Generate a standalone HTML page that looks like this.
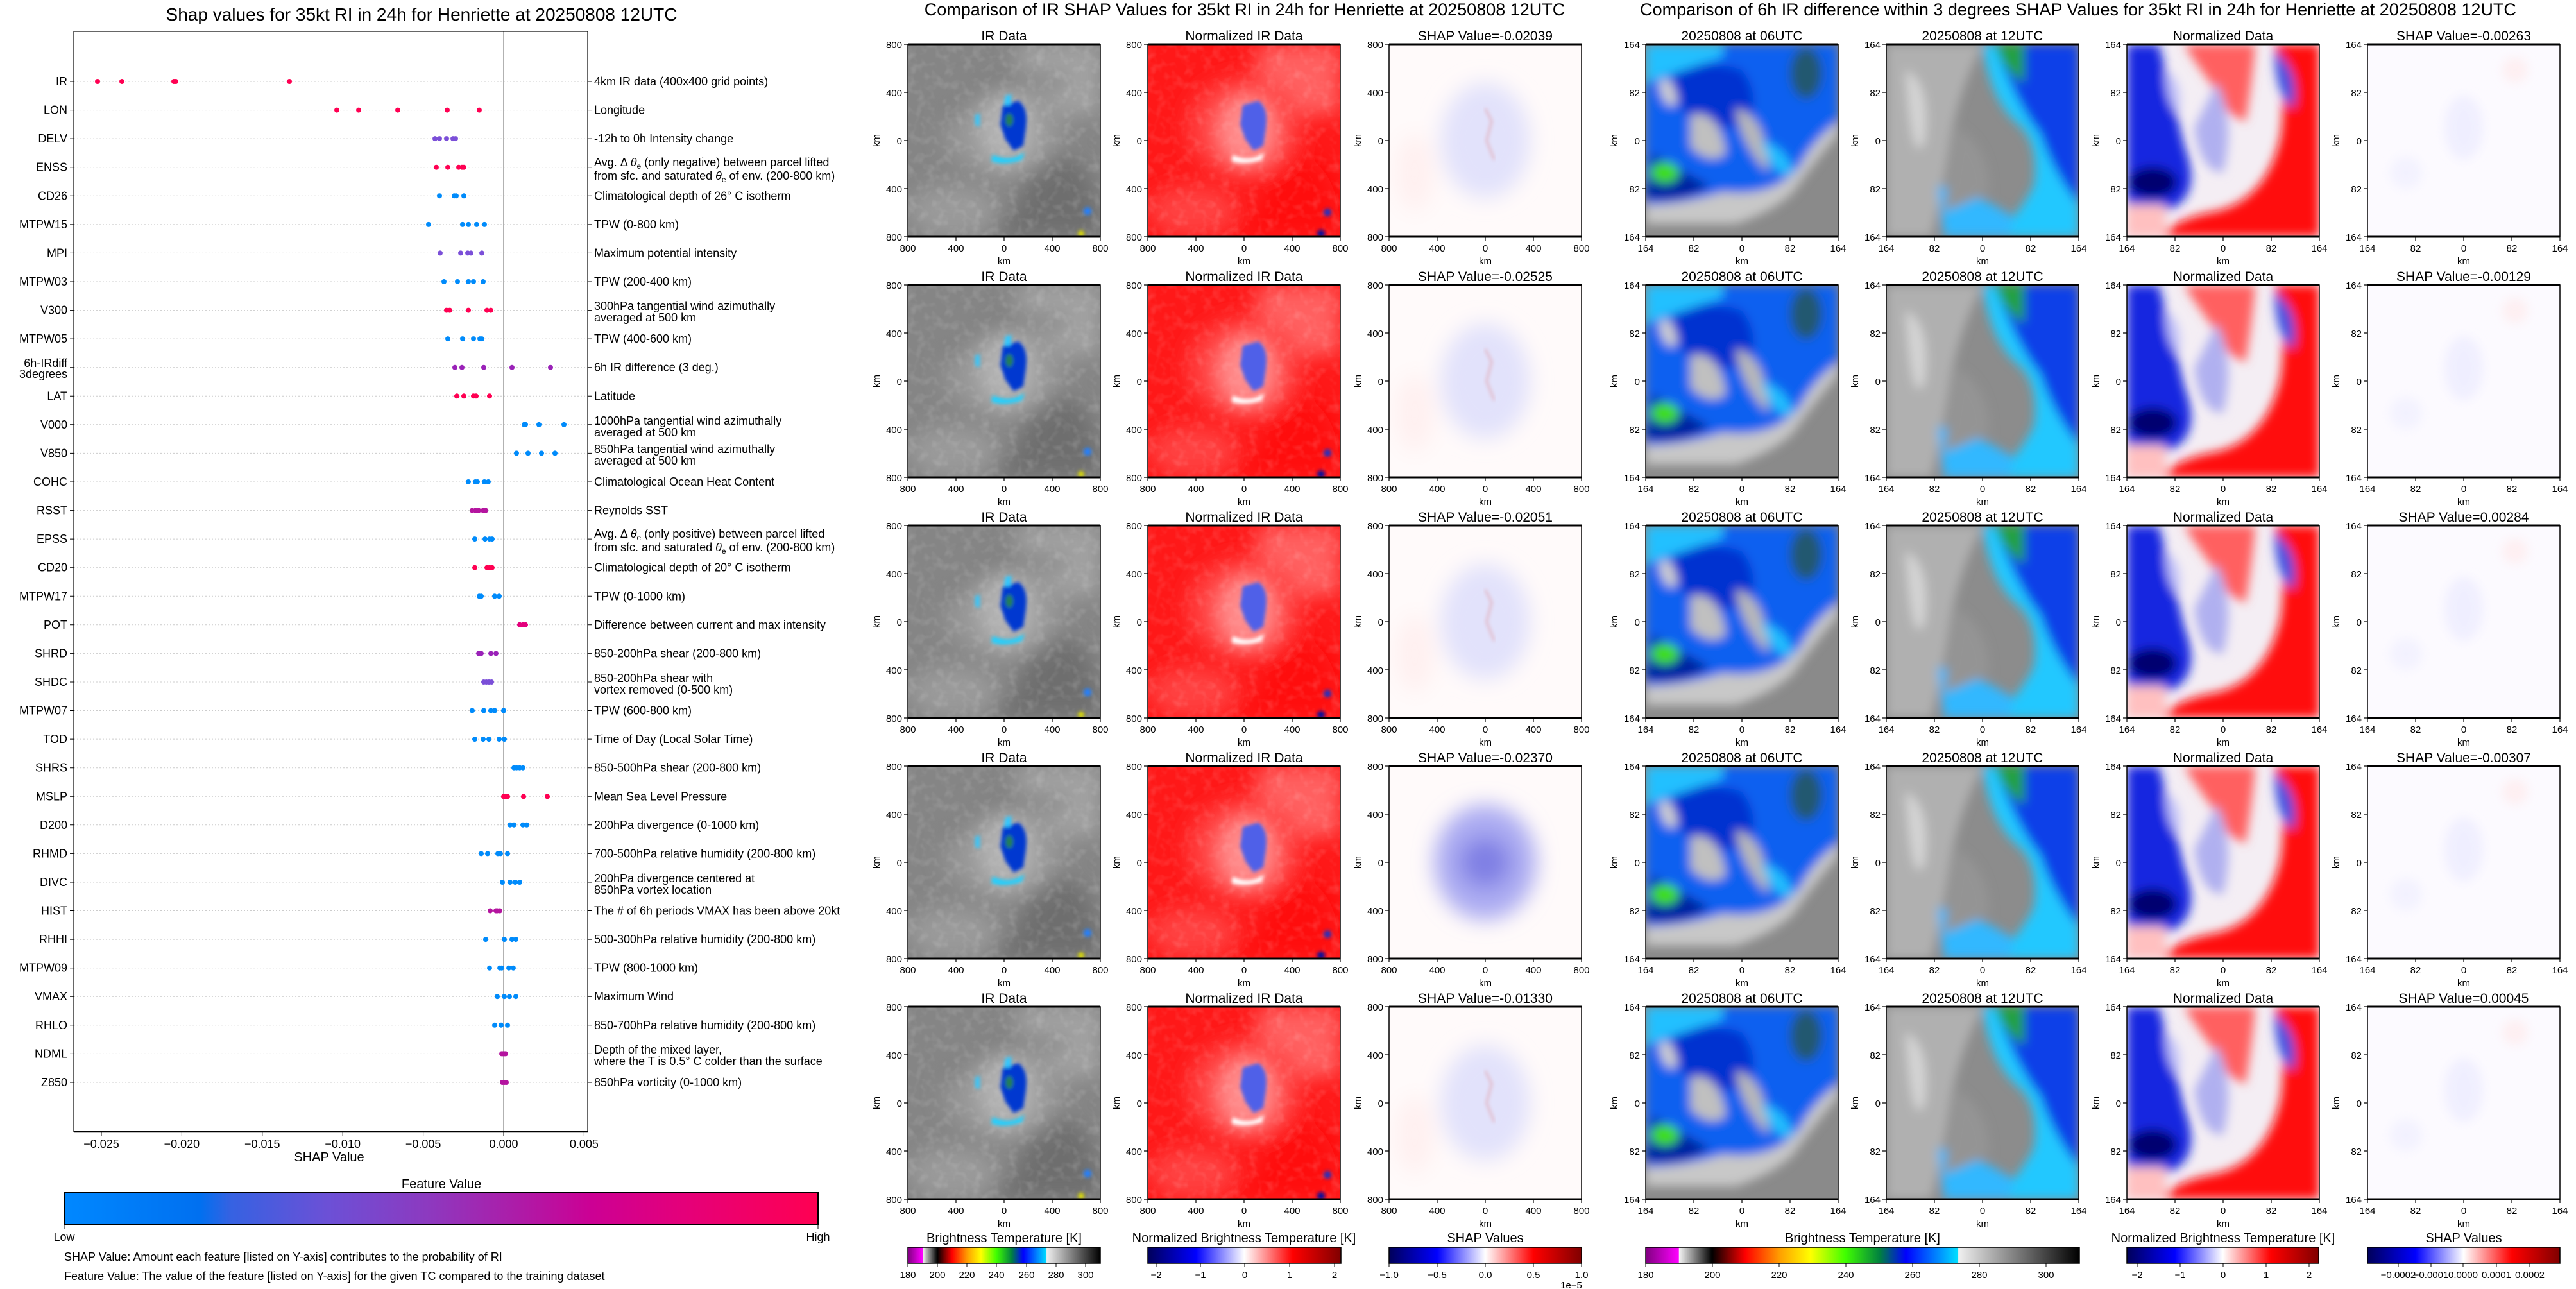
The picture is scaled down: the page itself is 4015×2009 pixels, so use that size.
<!DOCTYPE html>
<html><head><meta charset="utf-8"><style>
html,body{margin:0;padding:0;background:#fff;}
svg{display:block;font-family:"Liberation Sans","DejaVu Sans",sans-serif;}
.t{font-size:18px;fill:#000}
.tk{font-size:15px;fill:#000}
.st{font-size:21px;fill:#000}
</style></head><body>
<svg width="4015" height="2009" viewBox="0 0 4015 2009" xmlns="http://www.w3.org/2000/svg">
<defs>
<filter id="b3" x="-20%" y="-20%" width="140%" height="140%"><feGaussianBlur stdDeviation="3"/></filter>
<filter id="b8" x="-30%" y="-30%" width="160%" height="160%"><feGaussianBlur stdDeviation="8"/></filter>
<filter id="b15" x="-30%" y="-30%" width="160%" height="160%"><feGaussianBlur stdDeviation="16"/></filter>
<filter id="tex" x="0" y="0" width="100%" height="100%"><feTurbulence type="fractalNoise" baseFrequency="0.07" numOctaves="2" seed="3"/><feColorMatrix type="matrix" values="0 0 0 0 1  0 0 0 0 1  0 0 0 0 1  0 0 0 1.6 -0.75"/></filter>
<linearGradient id="gFV" x1="0" x2="1"><stop offset="0" stop-color="#0088ff"/><stop offset=".18" stop-color="#0070f0"/><stop offset=".22" stop-color="#3562e2"/><stop offset=".35" stop-color="#6c50d6"/><stop offset=".48" stop-color="#8c3ac0"/><stop offset=".6" stop-color="#ad1ca8"/><stop offset=".7" stop-color="#cc0094"/><stop offset=".82" stop-color="#e4007a"/><stop offset="1" stop-color="#ff0052"/></linearGradient>
<linearGradient id="gBT" x1="0" x2="1"><stop offset="0" stop-color="#800080"/><stop offset=".076" stop-color="#ff00ff"/><stop offset=".077" stop-color="#f4f4f4"/><stop offset=".153" stop-color="#000"/><stop offset=".23" stop-color="#ff0000"/><stop offset=".31" stop-color="#ffa000"/><stop offset=".38" stop-color="#ffff00"/><stop offset=".46" stop-color="#40ff00"/><stop offset=".54" stop-color="#008040"/><stop offset=".6" stop-color="#0000ff"/><stop offset=".72" stop-color="#00e0ff"/><stop offset=".721" stop-color="#f0f0f0"/><stop offset="1" stop-color="#000"/></linearGradient>
<linearGradient id="gSW" x1="0" x2="1"><stop offset="0" stop-color="#00005a"/><stop offset=".25" stop-color="#0000ff"/><stop offset=".5" stop-color="#ffffff"/><stop offset=".75" stop-color="#ff0000"/><stop offset="1" stop-color="#800000"/></linearGradient>

<symbol id="ir" viewBox="0 0 300 300">
<rect width="300" height="300" fill="#858585"/>
<g filter="url(#b15)">
<rect x="170" y="0" width="130" height="110" fill="#a2a2a2"/>
<path d="M180 170 Q300 150 300 300 L120 300 Q200 250 180 170Z" fill="#6e6e6e"/>
<ellipse cx="150" cy="130" rx="95" ry="80" fill="#969696"/>
<path d="M60 120 Q110 30 250 60" stroke="#747474" stroke-width="14" fill="none"/>
<ellipse cx="155" cy="135" rx="45" ry="55" fill="#b2b2b2"/>
<ellipse cx="70" cy="260" rx="70" ry="40" fill="#9a9a9a"/>
</g>
<rect width="300" height="300" filter="url(#tex)" opacity=".22"/>
<g filter="url(#b3)">
<path d="M148 95 L172 88 Q188 98 184 130 L180 158 L165 166 L152 148 L144 125Z" fill="#0038d0"/>
<path d="M132 172 Q160 185 182 168 L178 180 Q150 190 130 182Z" fill="#20d0ff"/>
<path d="M152 80 L162 78 L160 95 L150 95Z" fill="#30c8ff"/>
<path d="M105 110 L112 108 L112 128 L105 126Z" fill="#30c8ff"/>
<ellipse cx="158" cy="118" rx="6" ry="10" fill="#208050"/>
<circle cx="280" cy="260" r="6" fill="#2080ff"/><circle cx="270" cy="295" r="5" fill="#e0e000"/>
</g>
</symbol>

<symbol id="nir" viewBox="0 0 300 300">
<rect width="300" height="300" fill="#ff1818"/>
<g filter="url(#b15)">
<rect x="170" y="0" width="130" height="110" fill="#ff6060"/>
<path d="M180 170 Q300 150 300 300 L120 300 Q200 250 180 170Z" fill="#ff0808"/>
<ellipse cx="150" cy="130" rx="90" ry="80" fill="#ff4040"/>
<ellipse cx="155" cy="135" rx="45" ry="55" fill="#ff8c8c"/>
<ellipse cx="70" cy="260" rx="70" ry="40" fill="#ff4040"/>
</g>
<rect width="300" height="300" filter="url(#tex)" opacity=".2"/>
<g filter="url(#b3)">
<path d="M148 95 L172 88 Q188 98 184 130 L180 158 L165 166 L152 148 L144 125Z" fill="#5060e8"/>
<path d="M132 172 Q160 185 182 168 L178 180 Q150 190 130 182Z" fill="#ffffff"/>
<circle cx="280" cy="262" r="6" fill="#2030c0"/><circle cx="270" cy="295" r="6" fill="#0010a0"/>
</g>
</symbol>

<symbol id="shp" viewBox="0 0 300 300">
<rect width="300" height="300" fill="#fffafa"/>
<g filter="url(#b15)">
<ellipse cx="150" cy="150" rx="70" ry="90" fill="#e2e2fb"/>
<ellipse cx="40" cy="200" rx="30" ry="60" fill="#fff0f0"/>
</g>
<g filter="url(#b3)" opacity=".5"><path d="M150 100 l10 20 l-8 30 l12 30" stroke="#e08080" stroke-width="3" fill="none"/></g>
</symbol>
<symbol id="shp2" viewBox="0 0 300 300">
<rect width="300" height="300" fill="#fffafa"/>
<g filter="url(#b15)">
<ellipse cx="150" cy="150" rx="80" ry="90" fill="#acacf2"/>
<ellipse cx="150" cy="150" rx="40" ry="40" fill="#8080e4"/>
</g>
</symbol>

<symbol id="p06" viewBox="0 0 300 300">
<rect width="300" height="300" fill="#8a8a8a"/>
<g filter="url(#b8)">
<path d="M0 0 H300 V140 Q250 200 230 230 Q200 260 140 280 L0 280Z" fill="#c8c8c8"/>
<path d="M0 0 H300 V120 Q260 150 240 190 Q200 240 120 230 Q60 250 0 250Z" fill="#1060f0"/>
<path d="M40 40 Q90 20 150 40 Q180 80 160 120 Q120 140 80 120 Q40 100 40 40Z" fill="#0030d0"/>
<path d="M140 100 Q190 110 190 200 Q150 160 140 100Z" fill="#b8b8b8"/>
<path d="M70 110 Q115 100 125 170 Q100 190 70 160Z" fill="#c0c0c0"/>
<path d="M20 60 Q40 40 50 90 Q30 110 20 60Z" fill="#d0d0d0"/>
<path d="M10 170 Q60 200 100 220 Q60 250 0 240Z" fill="#0020a0"/>
<ellipse cx="30" cy="200" rx="22" ry="16" fill="#40e000"/>
<ellipse cx="250" cy="45" rx="25" ry="40" fill="#205870"/>
<path d="M0 0 H120 V20 Q60 40 0 60Z" fill="#20c0ff"/>
<path d="M180 150 Q220 160 230 200 Q200 215 180 150Z" fill="#20c0ff"/>
</g>
</symbol>
<symbol id="p12" viewBox="0 0 300 300">
<rect width="300" height="300" fill="#8c8c8c"/>
<g filter="url(#b8)">
<path d="M0 0 H150 Q110 80 100 150 Q90 220 70 300 H0Z" fill="#b0b0b0"/>
<path d="M30 40 Q70 60 60 150 Q40 200 30 40Z" fill="#d4d4d4"/>
<path d="M150 0 H300 V300 H170 Q210 260 230 220 Q240 150 200 120 Q160 80 150 0Z" fill="#20c8ff"/>
<path d="M170 0 H300 V250 Q260 200 240 140 Q200 90 170 0Z" fill="#0840e8"/>
<path d="M170 0 H215 V60 Q185 45 170 0Z" fill="#20a040"/>
<path d="M80 220 Q140 230 200 270 L190 300 H90Z" fill="#30b8ff"/>
<path d="M110 130 Q160 160 160 230 Q120 250 90 260 Q100 190 110 130Z" fill="#949494"/>
</g>
</symbol>
<symbol id="pn" viewBox="0 0 300 300">
<rect width="300" height="300" fill="#f4eef4"/>
<g filter="url(#b8)">
<path d="M0 0 H50 Q70 80 90 160 Q120 240 60 260 L0 250Z" fill="#1828e0"/>
<ellipse cx="40" cy="215" rx="38" ry="24" fill="#000070"/>
<path d="M300 0 V300 H50 Q80 270 140 260 Q220 240 240 140 Q250 60 230 0Z" fill="#ff1010"/>
<path d="M90 0 H200 Q195 60 185 120 Q150 110 130 60 Q100 20 90 0Z" fill="#ff6060"/>
<path d="M140 60 Q170 120 150 200 Q115 200 105 130Z" fill="#b0b0f0"/>
<path d="M230 10 Q270 40 260 100 Q230 80 230 10Z" fill="#4050e0"/>
<path d="M0 250 H60 V300 H0Z" fill="#ffc0c0"/>
<path d="M60 40 Q90 60 80 110 Q60 90 60 40Z" fill="#c0c0f8"/>
</g>
</symbol>
<symbol id="ps" viewBox="0 0 300 300">
<rect width="300" height="300" fill="#fcfaff"/>
<g filter="url(#b8)" opacity=".5">
<ellipse cx="150" cy="130" rx="30" ry="50" fill="#e4e4ff"/>
<ellipse cx="230" cy="40" rx="20" ry="20" fill="#ffe4e4"/>
<ellipse cx="60" cy="200" rx="25" ry="25" fill="#eaeaff"/>
</g>
</symbol>

<g id="tm">
<rect x="0" y="0" width="300" height="300" fill="none" stroke="#000" stroke-width="1.5"/>
<line x1="0" y1="0" x2="300" y2="0" stroke="#000" stroke-width="3"/>
<line x1="0" y1="300" x2="300" y2="300" stroke="#000" stroke-width="3"/>
<path d="M0 0h-6M0 75h-6M0 150h-6M0 225h-6M0 300h-6M0 300v6M75 300v6M150 300v6M225 300v6M300 300v6" stroke="#000" stroke-width="1.2"/>
<g class="tk" text-anchor="end"><text x="-9" y="6">800</text><text x="-9" y="81">400</text><text x="-9" y="156">0</text><text x="-9" y="231">400</text><text x="-9" y="306">800</text></g>
<g class="tk" text-anchor="middle"><text x="0" y="323">800</text><text x="75" y="323">400</text><text x="150" y="323">0</text><text x="225" y="323">400</text><text x="300" y="323">800</text>
<text x="150" y="343">km</text></g>
<text class="tk" transform="translate(-44,150) rotate(-90)" text-anchor="middle">km</text>
</g>
<g id="tr">
<rect x="0" y="0" width="300" height="300" fill="none" stroke="#000" stroke-width="1.5"/>
<line x1="0" y1="0" x2="300" y2="0" stroke="#000" stroke-width="3"/>
<line x1="0" y1="300" x2="300" y2="300" stroke="#000" stroke-width="3"/>
<path d="M0 0h-6M0 75h-6M0 150h-6M0 225h-6M0 300h-6M0 300v6M75 300v6M150 300v6M225 300v6M300 300v6" stroke="#000" stroke-width="1.2"/>
<g class="tk" text-anchor="end"><text x="-9" y="6">164</text><text x="-9" y="81">82</text><text x="-9" y="156">0</text><text x="-9" y="231">82</text><text x="-9" y="306">164</text></g>
<g class="tk" text-anchor="middle"><text x="0" y="323">164</text><text x="75" y="323">82</text><text x="150" y="323">0</text><text x="225" y="323">82</text><text x="300" y="323">164</text>
<text x="150" y="343">km</text></g>
<text class="tk" transform="translate(-44,150) rotate(-90)" text-anchor="middle">km</text>
</g>
</defs>

<!-- LEFT CHART -->
<text x="657" y="32" font-size="28" text-anchor="middle">Shap values for 35kt RI in 24h for Henriette at 20250808 12UTC</text>
<g stroke="#ccc" stroke-width="1" stroke-dasharray="2,3">
<path d="M115 127H916M115 171.6H916M115 216.1H916M115 260.7H916M115 305.3H916M115 349.9H916M115 394.4H916M115 439H916M115 483.6H916M115 528.1H916M115 572.7H916M115 617.3H916M115 661.8H916M115 706.4H916M115 751H916M115 795.6H916M115 840.1H916M115 884.7H916M115 929.3H916M115 973.8H916M115 1018.4H916M115 1063H916M115 1107.5H916M115 1152.1H916M115 1196.7H916M115 1241.3H916M115 1285.8H916M115 1330.4H916M115 1375H916M115 1419.5H916M115 1464.1H916M115 1508.7H916M115 1553.2H916M115 1597.8H916M115 1642.4H916M115 1687H916"/>
</g>
<line x1="785" y1="49" x2="785" y2="1764" stroke="#999" stroke-width="1.5"/>
<rect x="115" y="49" width="801" height="1715" fill="none" stroke="#000" stroke-width="1.2"/>
<line x1="115" y1="1764" x2="916" y2="1764" stroke="#000" stroke-width="2.5"/>
<g stroke="#000" stroke-width="1">
<path d="M109 127H115M109 171.6H115M109 216.1H115M109 260.7H115M109 305.3H115M109 349.9H115M109 394.4H115M109 439H115M109 483.6H115M109 528.1H115M109 572.7H115M109 617.3H115M109 661.8H115M109 706.4H115M109 751H115M109 795.6H115M109 840.1H115M109 884.7H115M109 929.3H115M109 973.8H115M109 1018.4H115M109 1063H115M109 1107.5H115M109 1152.1H115M109 1196.7H115M109 1241.3H115M109 1285.8H115M109 1330.4H115M109 1375H115M109 1419.5H115M109 1464.1H115M109 1508.7H115M109 1553.2H115M109 1597.8H115M109 1642.4H115M109 1687H115"/>
<path d="M916 127H922M916 171.6H922M916 216.1H922M916 260.7H922M916 305.3H922M916 349.9H922M916 394.4H922M916 439H922M916 483.6H922M916 528.1H922M916 572.7H922M916 617.3H922M916 661.8H922M916 706.4H922M916 751H922M916 795.6H922M916 840.1H922M916 884.7H922M916 929.3H922M916 973.8H922M916 1018.4H922M916 1063H922M916 1107.5H922M916 1152.1H922M916 1196.7H922M916 1241.3H922M916 1285.8H922M916 1330.4H922M916 1375H922M916 1419.5H922M916 1464.1H922M916 1508.7H922M916 1553.2H922M916 1597.8H922M916 1642.4H922M916 1687H922"/>
<path d="M158 1764v7M283.4 1764v7M408.8 1764v7M534.2 1764v7M659.6 1764v7M785 1764v7M910.4 1764v7"/>
</g>
<g class="t" text-anchor="end">
<text x="105" y="133">IR</text><text x="105" y="177.6">LON</text><text x="105" y="222.1">DELV</text><text x="105" y="266.7">ENSS</text><text x="105" y="311.3">CD26</text><text x="105" y="355.9">MTPW15</text><text x="105" y="400.4">MPI</text><text x="105" y="445">MTPW03</text><text x="105" y="489.6">V300</text><text x="105" y="534.1">MTPW05</text><text x="105" y="572">6h-IRdiff</text><text x="105" y="589">3degrees</text><text x="105" y="623.3">LAT</text><text x="105" y="667.8">V000</text><text x="105" y="712.4">V850</text><text x="105" y="757">COHC</text><text x="105" y="801.6">RSST</text><text x="105" y="846.1">EPSS</text><text x="105" y="890.7">CD20</text><text x="105" y="935.3">MTPW17</text><text x="105" y="979.8">POT</text><text x="105" y="1024.4">SHRD</text><text x="105" y="1069">SHDC</text><text x="105" y="1113.5">MTPW07</text><text x="105" y="1158.1">TOD</text><text x="105" y="1202.7">SHRS</text><text x="105" y="1247.3">MSLP</text><text x="105" y="1291.8">D200</text><text x="105" y="1336.4">RHMD</text><text x="105" y="1381">DIVC</text><text x="105" y="1425.5">HIST</text><text x="105" y="1470.1">RHHI</text><text x="105" y="1514.7">MTPW09</text><text x="105" y="1559.2">VMAX</text><text x="105" y="1603.8">RHLO</text><text x="105" y="1648.4">NDML</text><text x="105" y="1693">Z850</text>
</g>
<g class="t">
<text x="926" y="133">4km IR data (400x400 grid points)</text>
<text x="926" y="177.6">Longitude</text>
<text x="926" y="222.1">-12h to 0h Intensity change</text>
<text x="926" y="259">Avg. Δ <tspan font-style="italic">θ</tspan><tspan font-size="12" dy="4">e</tspan><tspan dy="-4"> (only negative) between parcel lifted</tspan></text>
<text x="926" y="280">from sfc. and saturated <tspan font-style="italic">θ</tspan><tspan font-size="12" dy="4">e</tspan><tspan dy="-4"> of env. (200-800 km)</tspan></text>
<text x="926" y="311.3">Climatological depth of 26° C isotherm</text>
<text x="926" y="355.9">TPW (0-800 km)</text>
<text x="926" y="400.4">Maximum potential intensity</text>
<text x="926" y="445">TPW (200-400 km)</text>
<text x="926" y="483">300hPa tangential wind azimuthally</text>
<text x="926" y="501">averaged at 500 km</text>
<text x="926" y="534.1">TPW (400-600 km)</text>
<text x="926" y="578.7">6h IR difference (3 deg.)</text>
<text x="926" y="623.3">Latitude</text>
<text x="926" y="662">1000hPa tangential wind azimuthally</text>
<text x="926" y="680">averaged at 500 km</text>
<text x="926" y="706">850hPa tangential wind azimuthally</text>
<text x="926" y="724">averaged at 500 km</text>
<text x="926" y="757">Climatological Ocean Heat Content</text>
<text x="926" y="801.6">Reynolds SST</text>
<text x="926" y="838">Avg. Δ <tspan font-style="italic">θ</tspan><tspan font-size="12" dy="4">e</tspan><tspan dy="-4"> (only positive) between parcel lifted</tspan></text>
<text x="926" y="859">from sfc. and saturated <tspan font-style="italic">θ</tspan><tspan font-size="12" dy="4">e</tspan><tspan dy="-4"> of env. (200-800 km)</tspan></text>
<text x="926" y="890.7">Climatological depth of 20° C isotherm</text>
<text x="926" y="935.3">TPW (0-1000 km)</text>
<text x="926" y="979.8">Difference between current and max intensity</text>
<text x="926" y="1024.4">850-200hPa shear (200-800 km)</text>
<text x="926" y="1063">850-200hPa shear with</text>
<text x="926" y="1081">vortex removed (0-500 km)</text>
<text x="926" y="1113.5">TPW (600-800 km)</text>
<text x="926" y="1158.1">Time of Day (Local Solar Time)</text>
<text x="926" y="1202.7">850-500hPa shear (200-800 km)</text>
<text x="926" y="1247.3">Mean Sea Level Pressure</text>
<text x="926" y="1291.8">200hPa divergence (0-1000 km)</text>
<text x="926" y="1336.4">700-500hPa relative humidity (200-800 km)</text>
<text x="926" y="1375">200hPa divergence centered at</text>
<text x="926" y="1393">850hPa vortex location</text>
<text x="926" y="1425.5">The # of 6h periods VMAX has been above 20kt</text>
<text x="926" y="1470.1">500-300hPa relative humidity (200-800 km)</text>
<text x="926" y="1514.7">TPW (800-1000 km)</text>
<text x="926" y="1559.2">Maximum Wind</text>
<text x="926" y="1603.8">850-700hPa relative humidity (200-800 km)</text>
<text x="926" y="1642">Depth of the mixed layer,</text>
<text x="926" y="1660">where the T is 0.5° C colder than the surface</text>
<text x="926" y="1693">850hPa vorticity (0-1000 km)</text>
</g>
<!-- dots -->
<g>
<g fill="#ff0052"><circle cx="152" cy="127" r="4"/><circle cx="190" cy="127" r="4"/><circle cx="271" cy="127" r="4"/><circle cx="274" cy="127" r="4"/><circle cx="451" cy="127" r="4"/>
<circle cx="525" cy="171.6" r="4"/><circle cx="559" cy="171.6" r="4"/><circle cx="620" cy="171.6" r="4"/><circle cx="697" cy="171.6" r="4"/><circle cx="747" cy="171.6" r="4"/>
<circle cx="680" cy="260.7" r="4"/><circle cx="698" cy="260.7" r="4"/><circle cx="715" cy="260.7" r="4"/><circle cx="720" cy="260.7" r="4"/><circle cx="723" cy="260.7" r="4"/>
<circle cx="696" cy="483.6" r="4"/><circle cx="701" cy="483.6" r="4"/><circle cx="730" cy="483.6" r="4"/><circle cx="759" cy="483.6" r="4"/><circle cx="765" cy="483.6" r="4"/>
<circle cx="712" cy="617.3" r="4"/><circle cx="723" cy="617.3" r="4"/><circle cx="738" cy="617.3" r="4"/><circle cx="742" cy="617.3" r="4"/><circle cx="763" cy="617.3" r="4"/>
<circle cx="740" cy="884.7" r="4"/><circle cx="759" cy="884.7" r="4"/><circle cx="763" cy="884.7" r="4"/><circle cx="767" cy="884.7" r="4"/>
<circle cx="785" cy="1241.3" r="4"/><circle cx="788" cy="1241.3" r="4"/><circle cx="791" cy="1241.3" r="4"/><circle cx="816" cy="1241.3" r="4"/><circle cx="853" cy="1241.3" r="4"/></g>
<g fill="#7b4fd8"><circle cx="678" cy="216.1" r="4"/><circle cx="685" cy="216.1" r="4"/><circle cx="696" cy="216.1" r="4"/><circle cx="706" cy="216.1" r="4"/><circle cx="710" cy="216.1" r="4"/>
<circle cx="686" cy="394.4" r="4"/><circle cx="718" cy="394.4" r="4"/><circle cx="729" cy="394.4" r="4"/><circle cx="734" cy="394.4" r="4"/><circle cx="751" cy="394.4" r="4"/>
<circle cx="754" cy="1063" r="4"/><circle cx="758" cy="1063" r="4"/><circle cx="762" cy="1063" r="4"/><circle cx="766" cy="1063" r="4"/></g>
<g fill="#9a22b8"><circle cx="709" cy="572.7" r="4"/><circle cx="720" cy="572.7" r="4"/><circle cx="754" cy="572.7" r="4"/><circle cx="798" cy="572.7" r="4"/><circle cx="858" cy="572.7" r="4"/>
<circle cx="746" cy="1018.4" r="4"/><circle cx="750" cy="1018.4" r="4"/><circle cx="765" cy="1018.4" r="4"/><circle cx="773" cy="1018.4" r="4"/></g>
<g fill="#b4149f"><circle cx="736" cy="795.6" r="4"/><circle cx="741" cy="795.6" r="4"/><circle cx="746" cy="795.6" r="4"/><circle cx="753" cy="795.6" r="4"/><circle cx="757" cy="795.6" r="4"/>
<circle cx="764" cy="1419.5" r="4"/><circle cx="773" cy="1419.5" r="4"/><circle cx="775" cy="1419.5" r="4"/><circle cx="779" cy="1419.5" r="4"/>
<circle cx="782" cy="1642.4" r="4"/><circle cx="784" cy="1642.4" r="4"/><circle cx="786" cy="1642.4" r="4"/><circle cx="788" cy="1642.4" r="4"/>
<circle cx="783" cy="1687" r="4"/><circle cx="786" cy="1687" r="4"/><circle cx="789" cy="1687" r="4"/></g>
<g fill="#e4007c"><circle cx="810" cy="973.8" r="4"/><circle cx="815" cy="973.8" r="4"/><circle cx="819" cy="973.8" r="4"/></g>
<g fill="#008bfb">
<circle cx="685" cy="305.3" r="4"/><circle cx="708" cy="305.3" r="4"/><circle cx="711" cy="305.3" r="4"/><circle cx="723" cy="305.3" r="4"/>
<circle cx="668" cy="349.9" r="4"/><circle cx="721" cy="349.9" r="4"/><circle cx="730" cy="349.9" r="4"/><circle cx="743" cy="349.9" r="4"/><circle cx="755" cy="349.9" r="4"/>
<circle cx="692" cy="439" r="4"/><circle cx="713" cy="439" r="4"/><circle cx="730" cy="439" r="4"/><circle cx="738" cy="439" r="4"/><circle cx="753" cy="439" r="4"/>
<circle cx="698" cy="528.1" r="4"/><circle cx="721" cy="528.1" r="4"/><circle cx="738" cy="528.1" r="4"/><circle cx="748" cy="528.1" r="4"/><circle cx="751" cy="528.1" r="4"/>
<circle cx="817" cy="661.8" r="4"/><circle cx="819" cy="661.8" r="4"/><circle cx="840" cy="661.8" r="4"/><circle cx="879" cy="661.8" r="4"/>
<circle cx="805" cy="706.4" r="4"/><circle cx="823" cy="706.4" r="4"/><circle cx="844" cy="706.4" r="4"/><circle cx="865" cy="706.4" r="4"/>
<circle cx="730" cy="751" r="4"/><circle cx="741" cy="751" r="4"/><circle cx="744" cy="751" r="4"/><circle cx="755" cy="751" r="4"/><circle cx="761" cy="751" r="4"/>
<circle cx="740" cy="840.1" r="4"/><circle cx="756" cy="840.1" r="4"/><circle cx="763" cy="840.1" r="4"/><circle cx="767" cy="840.1" r="4"/>
<circle cx="747" cy="929.3" r="4"/><circle cx="750" cy="929.3" r="4"/><circle cx="771" cy="929.3" r="4"/><circle cx="778" cy="929.3" r="4"/>
<circle cx="736" cy="1107.5" r="4"/><circle cx="754" cy="1107.5" r="4"/><circle cx="765" cy="1107.5" r="4"/><circle cx="771" cy="1107.5" r="4"/><circle cx="785" cy="1107.5" r="4"/>
<circle cx="740" cy="1152.1" r="4"/><circle cx="753" cy="1152.1" r="4"/><circle cx="762" cy="1152.1" r="4"/><circle cx="778" cy="1152.1" r="4"/><circle cx="786" cy="1152.1" r="4"/>
<circle cx="801" cy="1196.7" r="4"/><circle cx="805" cy="1196.7" r="4"/><circle cx="810" cy="1196.7" r="4"/><circle cx="815" cy="1196.7" r="4"/>
<circle cx="795" cy="1285.8" r="4"/><circle cx="801" cy="1285.8" r="4"/><circle cx="815" cy="1285.8" r="4"/><circle cx="821" cy="1285.8" r="4"/>
<circle cx="750" cy="1330.4" r="4"/><circle cx="760" cy="1330.4" r="4"/><circle cx="776" cy="1330.4" r="4"/><circle cx="780" cy="1330.4" r="4"/><circle cx="791" cy="1330.4" r="4"/>
<circle cx="783" cy="1375" r="4"/><circle cx="795" cy="1375" r="4"/><circle cx="803" cy="1375" r="4"/><circle cx="810" cy="1375" r="4"/>
<circle cx="757" cy="1464.1" r="4"/><circle cx="786" cy="1464.1" r="4"/><circle cx="798" cy="1464.1" r="4"/><circle cx="804" cy="1464.1" r="4"/>
<circle cx="763" cy="1508.7" r="4"/><circle cx="779" cy="1508.7" r="4"/><circle cx="782" cy="1508.7" r="4"/><circle cx="793" cy="1508.7" r="4"/><circle cx="800" cy="1508.7" r="4"/>
<circle cx="775" cy="1553.2" r="4"/><circle cx="786" cy="1553.2" r="4"/><circle cx="794" cy="1553.2" r="4"/><circle cx="804" cy="1553.2" r="4"/>
<circle cx="771" cy="1597.8" r="4"/><circle cx="781" cy="1597.8" r="4"/><circle cx="791" cy="1597.8" r="4"/>
</g></g>
<g class="t" text-anchor="middle" font-size="17">
<text x="158" y="1789">−0.025</text><text x="283.4" y="1789">−0.020</text><text x="408.8" y="1789">−0.015</text><text x="534.2" y="1789">−0.010</text><text x="659.6" y="1789">−0.005</text><text x="785" y="1789">0.000</text><text x="910.4" y="1789">0.005</text>
<text x="513" y="1810" font-size="20">SHAP Value</text>
<text x="688" y="1852" font-size="20">Feature Value</text>
<text x="100" y="1934">Low</text><text x="1275" y="1934">High</text>
</g>
<rect x="100" y="1859" width="1175" height="50" fill="url(#gFV)" stroke="#000" stroke-width="2"/>
<path d="M100 1909v6M1275 1909v6" stroke="#000"/>
<text class="t" x="100" y="1965">SHAP Value: Amount each feature [listed on Y-axis] contributes to the probability of RI</text>
<text class="t" x="100" y="1995">Feature Value: The value of the feature [listed on Y-axis] for the given TC compared to the training dataset</text>

<text x="1940" y="24" font-size="27" text-anchor="middle">Comparison of IR SHAP Values for 35kt RI in 24h for Henriette at 20250808 12UTC</text>
<text x="3239" y="24" font-size="27" text-anchor="middle">Comparison of 6h IR difference within 3 degrees SHAP Values for 35kt RI in 24h for Henriette at 20250808 12UTC</text>

<g>
<use href="#ir" x="1415" y="69" width="300" height="300"/><use href="#nir" x="1789" y="69" width="300" height="300"/><use href="#shp" x="2165" y="69" width="300" height="300"/>
<use href="#p06" x="2565" y="69" width="300" height="300"/><use href="#p12" x="2940" y="69" width="300" height="300"/><use href="#pn" x="3315" y="69" width="300" height="300"/><use href="#ps" x="3690" y="69" width="300" height="300"/>
<use href="#ir" x="1415" y="444" width="300" height="300"/><use href="#nir" x="1789" y="444" width="300" height="300"/><use href="#shp" x="2165" y="444" width="300" height="300"/>
<use href="#p06" x="2565" y="444" width="300" height="300"/><use href="#p12" x="2940" y="444" width="300" height="300"/><use href="#pn" x="3315" y="444" width="300" height="300"/><use href="#ps" x="3690" y="444" width="300" height="300"/>
<use href="#ir" x="1415" y="819" width="300" height="300"/><use href="#nir" x="1789" y="819" width="300" height="300"/><use href="#shp" x="2165" y="819" width="300" height="300"/>
<use href="#p06" x="2565" y="819" width="300" height="300"/><use href="#p12" x="2940" y="819" width="300" height="300"/><use href="#pn" x="3315" y="819" width="300" height="300"/><use href="#ps" x="3690" y="819" width="300" height="300"/>
<use href="#ir" x="1415" y="1194" width="300" height="300"/><use href="#nir" x="1789" y="1194" width="300" height="300"/><use href="#shp2" x="2165" y="1194" width="300" height="300"/>
<use href="#p06" x="2565" y="1194" width="300" height="300"/><use href="#p12" x="2940" y="1194" width="300" height="300"/><use href="#pn" x="3315" y="1194" width="300" height="300"/><use href="#ps" x="3690" y="1194" width="300" height="300"/>
<use href="#ir" x="1415" y="1569" width="300" height="300"/><use href="#nir" x="1789" y="1569" width="300" height="300"/><use href="#shp" x="2165" y="1569" width="300" height="300"/>
<use href="#p06" x="2565" y="1569" width="300" height="300"/><use href="#p12" x="2940" y="1569" width="300" height="300"/><use href="#pn" x="3315" y="1569" width="300" height="300"/><use href="#ps" x="3690" y="1569" width="300" height="300"/>
</g>
<g>
<use href="#tm" transform="translate(1415,69)"/><use href="#tm" transform="translate(1789,69)"/><use href="#tm" transform="translate(2165,69)"/>
<use href="#tr" transform="translate(2565,69)"/><use href="#tr" transform="translate(2940,69)"/><use href="#tr" transform="translate(3315,69)"/><use href="#tr" transform="translate(3690,69)"/>
<use href="#tm" transform="translate(1415,444)"/><use href="#tm" transform="translate(1789,444)"/><use href="#tm" transform="translate(2165,444)"/>
<use href="#tr" transform="translate(2565,444)"/><use href="#tr" transform="translate(2940,444)"/><use href="#tr" transform="translate(3315,444)"/><use href="#tr" transform="translate(3690,444)"/>
<use href="#tm" transform="translate(1415,819)"/><use href="#tm" transform="translate(1789,819)"/><use href="#tm" transform="translate(2165,819)"/>
<use href="#tr" transform="translate(2565,819)"/><use href="#tr" transform="translate(2940,819)"/><use href="#tr" transform="translate(3315,819)"/><use href="#tr" transform="translate(3690,819)"/>
<use href="#tm" transform="translate(1415,1194)"/><use href="#tm" transform="translate(1789,1194)"/><use href="#tm" transform="translate(2165,1194)"/>
<use href="#tr" transform="translate(2565,1194)"/><use href="#tr" transform="translate(2940,1194)"/><use href="#tr" transform="translate(3315,1194)"/><use href="#tr" transform="translate(3690,1194)"/>
<use href="#tm" transform="translate(1415,1569)"/><use href="#tm" transform="translate(1789,1569)"/><use href="#tm" transform="translate(2165,1569)"/>
<use href="#tr" transform="translate(2565,1569)"/><use href="#tr" transform="translate(2940,1569)"/><use href="#tr" transform="translate(3315,1569)"/><use href="#tr" transform="translate(3690,1569)"/>
</g>
<g class="st" text-anchor="middle">
<text x="1565" y="63">IR Data</text><text x="1939" y="63">Normalized IR Data</text><text x="2315" y="63">SHAP Value=-0.02039</text>
<text x="2715" y="63">20250808 at 06UTC</text><text x="3090" y="63">20250808 at 12UTC</text><text x="3465" y="63">Normalized Data</text><text x="3840" y="63">SHAP Value=-0.00263</text>
<text x="1565" y="438">IR Data</text><text x="1939" y="438">Normalized IR Data</text><text x="2315" y="438">SHAP Value=-0.02525</text>
<text x="2715" y="438">20250808 at 06UTC</text><text x="3090" y="438">20250808 at 12UTC</text><text x="3465" y="438">Normalized Data</text><text x="3840" y="438">SHAP Value=-0.00129</text>
<text x="1565" y="813">IR Data</text><text x="1939" y="813">Normalized IR Data</text><text x="2315" y="813">SHAP Value=-0.02051</text>
<text x="2715" y="813">20250808 at 06UTC</text><text x="3090" y="813">20250808 at 12UTC</text><text x="3465" y="813">Normalized Data</text><text x="3840" y="813">SHAP Value=0.00284</text>
<text x="1565" y="1188">IR Data</text><text x="1939" y="1188">Normalized IR Data</text><text x="2315" y="1188">SHAP Value=-0.02370</text>
<text x="2715" y="1188">20250808 at 06UTC</text><text x="3090" y="1188">20250808 at 12UTC</text><text x="3465" y="1188">Normalized Data</text><text x="3840" y="1188">SHAP Value=-0.00307</text>
<text x="1565" y="1563">IR Data</text><text x="1939" y="1563">Normalized IR Data</text><text x="2315" y="1563">SHAP Value=-0.01330</text>
<text x="2715" y="1563">20250808 at 06UTC</text><text x="3090" y="1563">20250808 at 12UTC</text><text x="3465" y="1563">Normalized Data</text><text x="3840" y="1563">SHAP Value=0.00045</text>
</g>

<g stroke="#000" stroke-width="1.5">
<rect x="1415" y="1944" width="300" height="25" fill="url(#gBT)"/>
<rect x="1789" y="1944" width="301" height="25" fill="url(#gSW)"/>
<rect x="2165" y="1944" width="300" height="25" fill="url(#gSW)"/>
<rect x="2565" y="1944" width="676" height="25" fill="url(#gBT)"/>
<rect x="3315" y="1944" width="299" height="25" fill="url(#gSW)"/>
<rect x="3690" y="1944" width="300" height="25" fill="url(#gSW)"/>
</g>
<g text-anchor="middle" style="font-size:20px">
<text x="1565" y="1936">Brightness Temperature [K]</text><text x="1939" y="1936">Normalized Brightness Temperature [K]</text><text x="2315" y="1936">SHAP Values</text>
<text x="2903" y="1936">Brightness Temperature [K]</text><text x="3465" y="1936">Normalized Brightness Temperature [K]</text><text x="3840" y="1936">SHAP Values</text>
</g>
<g class="tk" text-anchor="middle">
<text x="1415" y="1992">180</text><text x="1461" y="1992">200</text><text x="1507" y="1992">220</text><text x="1553" y="1992">240</text><text x="1600" y="1992">260</text><text x="1646" y="1992">280</text><text x="1692" y="1992">300</text>
<text x="1802" y="1992">−2</text><text x="1871" y="1992">−1</text><text x="1940" y="1992">0</text><text x="2010" y="1992">1</text><text x="2080" y="1992">2</text>
<text x="2165" y="1992">−1.0</text><text x="2240" y="1992">−0.5</text><text x="2315" y="1992">0.0</text><text x="2390" y="1992">0.5</text><text x="2465" y="1992">1.0</text>
<text x="2449" y="2008">1e−5</text>
<text x="2565" y="1992">180</text><text x="2669" y="1992">200</text><text x="2773" y="1992">220</text><text x="2877" y="1992">240</text><text x="2981" y="1992">260</text><text x="3085" y="1992">280</text><text x="3189" y="1992">300</text>
<text x="3331" y="1992">−2</text><text x="3398" y="1992">−1</text><text x="3465" y="1992">0</text><text x="3532" y="1992">1</text><text x="3599" y="1992">2</text>
<text x="3738" y="1992">−0.0002</text><text x="3789" y="1992">−0.0001</text><text x="3839" y="1992">0.0000</text><text x="3891" y="1992">0.0001</text><text x="3943" y="1992">0.0002</text>
</g>
<g stroke="#000" stroke-width="1">
<path d="M1415 1969v5M1461 1969v5M1507 1969v5M1553 1969v5M1600 1969v5M1646 1969v5M1692 1969v5M1802 1969v5M1871 1969v5M1940 1969v5M2010 1969v5M2080 1969v5M2165 1969v5M2240 1969v5M2315 1969v5M2390 1969v5M2465 1969v5"/>
<path d="M2565 1969v5M2669 1969v5M2773 1969v5M2877 1969v5M2981 1969v5M3085 1969v5M3189 1969v5M3331 1969v5M3398 1969v5M3465 1969v5M3532 1969v5M3599 1969v5M3738 1969v5M3789 1969v5M3839 1969v5M3891 1969v5M3943 1969v5"/>
</g>
</svg>
</body></html>
